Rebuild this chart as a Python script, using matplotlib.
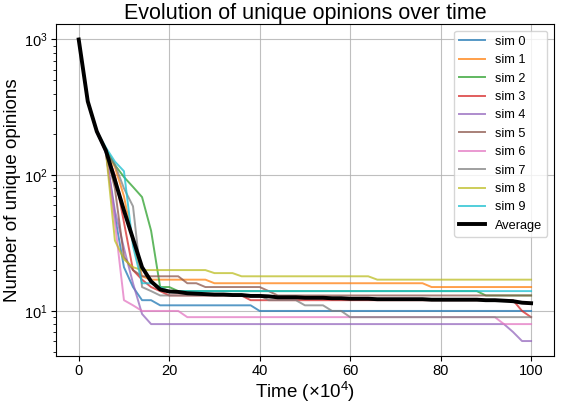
import matplotlib
matplotlib.use("Agg")
import matplotlib.pyplot as plt
import numpy as np

plt.rcParams['font.family'] = ['Liberation Sans', 'DejaVu Sans']
plt.rcParams['mathtext.fontset'] = 'custom'
plt.rcParams['mathtext.rm'] = 'Liberation Sans'
plt.rcParams['mathtext.it'] = 'Liberation Sans:italic'
plt.rcParams['mathtext.bf'] = 'Liberation Sans:bold'

# time in units of 10^4 steps, sampled every 2
time = list(range(0, 101, 2))

sim_0 = [1000, 350, 210, 148, 50, 21, 15, 12, 12, 11,
         11, 11, 11, 11, 11, 11, 11, 11, 11, 11,
         10, 10, 10, 10, 10, 10, 10, 10, 10, 10,
         10, 10, 10, 10, 10, 10, 10, 10, 10, 10,
         10, 10, 10, 10, 10, 10, 10, 10, 10, 10, 10]
sim_1 = [1000, 350, 210, 152, 115, 70, 32, 18, 17, 17,
         17, 17, 17, 17, 17, 16, 16, 16, 16, 16,
         16, 16, 16, 16, 16, 16, 16, 16, 16, 16,
         16, 16, 16, 16, 16, 16, 16, 16, 16, 15,
         15, 15, 15, 15, 15, 15, 15, 15, 15, 15, 15]
sim_2 = [1000, 350, 210, 155, 119, 97, 82, 69, 39, 15,
         15, 14, 14, 14, 14, 14, 14, 14, 14, 14,
         14, 14, 14, 14, 14, 14, 14, 14, 14, 14,
         14, 14, 14, 14, 14, 14, 14, 14, 14, 14,
         14, 14, 14, 14, 14, 13, 13, 13, 13, 13, 13]
sim_3 = [1000, 350, 210, 150, 100, 45, 20, 17, 15, 14,
         13, 13, 13, 13, 13, 13, 13, 13, 13, 12,
         12, 12, 12, 12, 12, 12, 12, 12, 12, 12,
         12, 12, 12, 12, 12, 12, 12, 12, 12, 12,
         12, 12, 12, 12, 12, 12, 12, 12, 12, 10, 9]
sim_4 = [1000, 350, 210, 145, 55, 29, 16, 9.5, 8, 8,
         8, 8, 8, 8, 8, 8, 8, 8, 8, 8,
         8, 8, 8, 8, 8, 8, 8, 8, 8, 8,
         8, 8, 8, 8, 8, 8, 8, 8, 8, 8,
         8, 8, 8, 8, 8, 8, 8, 8, 7, 6, 6]
sim_5 = [1000, 350, 210, 150, 80, 25, 20, 18, 18, 18,
         18, 18, 16, 16, 15, 15, 15, 15, 15, 15,
         15, 14, 13, 13, 13, 13, 13, 13, 13, 13,
         13, 13, 13, 13, 13, 13, 13, 13, 13, 13,
         13, 13, 13, 13, 13, 13, 13, 13, 13, 13, 13]
sim_6 = [1000, 350, 210, 150, 45, 12, 11, 10, 10, 10,
         10, 10, 9, 9, 9, 9, 9, 9, 9, 9,
         9, 9, 9, 9, 9, 9, 9, 9, 9, 9,
         9, 9, 9, 9, 9, 9, 9, 9, 9, 9,
         9, 9, 9, 9, 9, 9, 9, 8, 8, 8, 8]
sim_7 = [1000, 350, 210, 150, 120, 80, 59, 15, 14, 13,
         13, 13, 13, 13, 13, 13, 13, 13, 13, 13,
         13, 12, 12, 12, 12, 11, 11, 11, 10, 10,
         9, 9, 9, 9, 9, 9, 9, 9, 9, 9,
         9, 9, 9, 9, 9, 9, 9, 9, 9, 9, 9]
sim_8 = [1000, 350, 210, 150, 33, 24, 21, 20, 20, 20,
         20, 20, 20, 20, 20, 19, 19, 19, 18, 18,
         18, 18, 18, 18, 18, 18, 18, 18, 18, 18,
         18, 18, 18, 17, 17, 17, 17, 17, 17, 17,
         17, 17, 17, 17, 17, 17, 17, 17, 17, 17, 17]
sim_9 = [1000, 350, 210, 160, 126, 107, 30, 16, 16, 15,
         14, 14, 14, 14, 14, 14, 14, 14, 14, 14,
         14, 14, 14, 14, 14, 14, 14, 14, 14, 14,
         14, 14, 14, 14, 14, 14, 14, 14, 14, 14,
         14, 14, 14, 14, 14, 14, 14, 14, 14, 14, 14]

average = [1000, 350, 210, 152, 92, 55, 34, 21, 16.5, 14.4,
           13.9, 13.8, 13.5, 13.4, 13.3, 13.2, 13.2, 13.1, 13.1, 12.9,
           12.9, 12.8, 12.6, 12.6, 12.6, 12.5, 12.5, 12.5, 12.4, 12.4,
           12.3, 12.3, 12.3, 12.2, 12.2, 12.2, 12.2, 12.2, 12.2, 12.1,
           12.1, 12.1, 12.1, 12.1, 12.1, 12.0, 12.0, 11.9, 11.8, 11.5, 11.4]

sims = [sim_0, sim_1, sim_2, sim_3, sim_4, sim_5, sim_6, sim_7, sim_8, sim_9]
labels = [f"sim {i}" for i in range(10)]

fig = plt.figure(figsize=(5.61, 4.07), dpi=100)
ax = fig.add_axes([0.1, 0.125, 0.887, 0.815])

for s, lab in zip(sims, labels):
    ax.plot(time, s, lw=1.4, alpha=0.75, label=lab)
ax.plot(time, average, color='black', lw=2.8, label='Average')

ax.set_yscale('log')
ax.grid(True, which='major', color='#b0b0b0', lw=0.8, alpha=0.8)
ax.set_title('Evolution of unique opinions over time', fontsize=15.5, pad=3)
ax.set_xlabel(r'Time ($\times 10^4$)', fontsize=13.5, labelpad=1)
ax.set_ylabel('Number of unique opinions', fontsize=13.5, labelpad=2)
ax.tick_params(axis='both', which='major', labelsize=10.5, pad=2.5)
ax.legend(loc='upper right', fontsize=9.2, framealpha=0.8)

fig.savefig('out.png', dpi=100)
